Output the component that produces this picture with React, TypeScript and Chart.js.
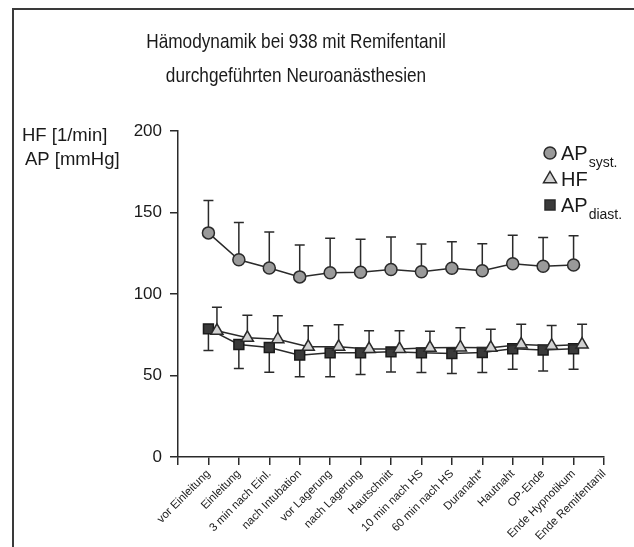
import { useEffect, useRef } from 'react';
import { Chart, registerables } from 'chart.js';

Chart.register(...registerables);

const FONT = "'Liberation Sans', Arial, Helvetica, sans-serif";

const categories = [
  'vor Einleitung',
  'Einleitung',
  '3 min nach Einl.',
  'nach Intubation',
  'vor Lagerung',
  'nach Lagerung',
  'Hautschnitt',
  '10 min nach HS',
  '60 min nach HS',
  'Duranaht*',
  'Hautnaht',
  'OP-Ende',
  'Ende Hypnotikum',
  'Ende Remifentanil',
];

const apSyst = [137.5, 121, 116, 110.5, 113, 113.3, 115, 113.7, 115.8, 114.3, 118.6, 117, 117.8];
const apSystUpper = [157.4, 143.9, 138.1, 130, 134.2, 133.6, 135, 130.6, 132, 130.8, 136.1, 134.6, 135.7];

const hf = [77.4, 73.1, 72.3, 67.6, 67.6, 66.2, 66.2, 67, 67.2, 67, 69, 68.2, 69];
const hfUpper = [91.8, 86.9, 86.7, 80.5, 81.1, 77.4, 77.4, 77.2, 79.3, 78.3, 81.4, 80.7, 81.4];

const apDiast = [78.6, 69, 67.2, 62.5, 63.9, 63.9, 64.5, 63.9, 63.5, 64.1, 66.4, 65.6, 66.4];
const apDiastLower = [65.4, 54.3, 52, 49.2, 49.2, 50.6, 52.2, 51.8, 51.2, 51.8, 53.9, 52.8, 53.9];

const yTicks = [0, 50, 100, 150, 200];
const titleLines = ['Hämodynamik bei 938 mit Remifentanil', 'durchgeführten Neuroanästhesien'];
const yTitleLines = ['HF [1/min]', 'AP [mmHg]'];
const HF_SHIFT = 0.28;

const INK = '#2a2a2a';

const errorBarPlugin = {
  id: 'errorBars',
  beforeDatasetsDraw(chart: any) {
    const ctx = chart.ctx;
    const ys = chart.scales.y;
    chart.data.datasets.forEach((ds: any, i: number) => {
      if (!ds.errorTo) return;
      const meta = chart.getDatasetMeta(i);
      ctx.save();
      ctx.strokeStyle = INK;
      ctx.lineWidth = 1.5;
      meta.data.forEach((pt: any, j: number) => {
        const yEnd = ys.getPixelForValue(ds.errorTo[j]);
        ctx.beginPath();
        ctx.moveTo(pt.x, pt.y);
        ctx.lineTo(pt.x, yEnd);
        ctx.moveTo(pt.x - 5, yEnd);
        ctx.lineTo(pt.x + 5, yEnd);
        ctx.stroke();
      });
      ctx.restore();
    });
  },
};

function drawMarker(ctx: CanvasRenderingContext2D, style: string, x: number, y: number, fill: string) {
  ctx.save();
  ctx.fillStyle = fill;
  ctx.strokeStyle = INK;
  ctx.lineWidth = 1.5;
  ctx.beginPath();
  if (style === 'circle') {
    ctx.arc(x, y, 6, 0, Math.PI * 2);
  } else if (style === 'triangle') {
    const r = 7.5;
    ctx.moveTo(x, y - r);
    ctx.lineTo(x + r * 0.866, y + r * 0.5);
    ctx.lineTo(x - r * 0.866, y + r * 0.5);
    ctx.closePath();
  } else {
    ctx.rect(x - 5, y - 5, 10, 10);
  }
  ctx.fill();
  ctx.stroke();
  ctx.restore();
}

const decorPlugin = {
  id: 'decor',
  afterDraw(chart: any) {
    const ctx: CanvasRenderingContext2D = chart.ctx;
    ctx.save();
    // frame
    ctx.strokeStyle = '#3a3a3a';
    ctx.lineWidth = 2;
    ctx.beginPath();
    ctx.moveTo(13, 547);
    ctx.lineTo(13, 9);
    ctx.lineTo(634, 9);
    ctx.stroke();

    ctx.fillStyle = '#1a1a1a';
    // title
    ctx.textAlign = 'center';
    ctx.textBaseline = 'alphabetic';
    ctx.font = `21px ${FONT}`;
    titleLines.forEach((t, i) => {
      ctx.save();
      ctx.translate(296, 48 + i * 34);
      ctx.scale(0.82, 1);
      ctx.fillText(t, 0, 0);
      ctx.restore();
    });

    // y title
    ctx.textAlign = 'left';
    ctx.font = `18.5px ${FONT}`;
    ctx.fillText(yTitleLines[0], 22, 141);
    ctx.fillText(yTitleLines[1], 25, 165);

    // legend
    const items = [
      { style: 'circle', fill: '#9a9a9a', main: 'AP', sub: 'syst.' },
      { style: 'triangle', fill: '#d2d2d2', main: 'HF', sub: '' },
      { style: 'rect', fill: '#3a3a3a', main: 'AP', sub: 'diast.' },
    ];
    items.forEach((it, i) => {
      const y = 153 + i * 26;
      drawMarker(ctx, it.style, 550, y, it.fill);
      ctx.fillStyle = '#1a1a1a';
      ctx.font = `20px ${FONT}`;
      ctx.textBaseline = 'middle';
      ctx.fillText(it.main, 561, y + 1);
      const w = ctx.measureText(it.main).width;
      if (it.sub) {
        ctx.font = `14px ${FONT}`;
        ctx.fillText(it.sub, 561 + w + 1, y + 10);
      }
    });
    ctx.restore();
  },
};

export default function App() {
  const ref = useRef<HTMLCanvasElement | null>(null);
  useEffect(() => {
    if (!ref.current) return;
    const axisCommon = {
      grid: { drawOnChartArea: false, drawTicks: true, tickLength: 8, color: INK, lineWidth: 1.5 },
      border: { color: INK, width: 1.5 },
    };
    const chart = new Chart(ref.current, {
      type: 'line',
      data: {
        datasets: [
          {
            label: 'AP syst.',
            data: apSyst.map((y, i) => ({ x: i + 1, y })),
            errorTo: apSystUpper,
            order: 2,
            borderColor: INK,
            borderWidth: 1.5,
            pointStyle: 'circle',
            pointRadius: 6,
            pointBackgroundColor: '#9a9a9a',
            pointBorderColor: INK,
            pointBorderWidth: 1.5,
            fill: false,
            tension: 0,
          } as any,
          {
            label: 'HF',
            data: hf.map((y, i) => ({ x: i + 1 + HF_SHIFT, y })),
            errorTo: hfUpper,
            order: 0,
            borderColor: INK,
            borderWidth: 1.5,
            pointStyle: 'triangle',
            pointRadius: 7,
            pointBackgroundColor: '#d2d2d2',
            pointBorderColor: INK,
            pointBorderWidth: 1.5,
            fill: false,
            tension: 0,
          } as any,
          {
            label: 'AP diast.',
            data: apDiast.map((y, i) => ({ x: i + 1, y })),
            errorTo: apDiastLower,
            order: 1,
            borderColor: INK,
            borderWidth: 1.5,
            pointStyle: 'rect',
            pointRadius: 7,
            pointBackgroundColor: '#3a3a3a',
            pointBorderColor: '#1a1a1a',
            pointBorderWidth: 1.5,
            fill: false,
            tension: 0,
          } as any,
        ],
      },
      options: {
        responsive: false,
        animation: false,
        layout: { padding: { top: 131, right: 30, left: 0, bottom: 0 } },
        plugins: { legend: { display: false }, tooltip: { enabled: false }, title: { display: false } },
        scales: {
          x: {
            type: 'linear',
            min: 0,
            max: categories.length,
            afterBuildTicks: (s: any) => {
              s.ticks = Array.from({ length: categories.length + 1 }, (_, i) => ({ value: i }));
            },
            afterFit: (s: any) => {
              s.height = 90;
            },
            ...axisCommon,
            ticks: {
              autoSkip: false,
              minRotation: 45,
              maxRotation: 45,
              padding: 2,
              color: '#1a1a1a',
              font: { family: FONT, size: 11.5 },
              callback: (v: any) => categories[v - 1] ?? '',
            },
          },
          y: {
            min: 0,
            max: 200,
            afterBuildTicks: (s: any) => {
              s.ticks = yTicks.map((v) => ({ value: v }));
            },
            afterFit: (s: any) => {
              s.width = 178;
            },
            ...axisCommon,
            ticks: {
              padding: 8,
              color: '#1a1a1a',
              font: { family: FONT, size: 17 },
            },
          },
        },
      } as any,
      plugins: [errorBarPlugin, decorPlugin],
    });
    return () => chart.destroy();
  }, []);
  return (
    <div style={{ position: 'fixed', left: 0, top: 0, width: 634, height: 547, background: '#fff' }}>
      <canvas ref={ref} width={634} height={547} style={{ display: 'block' }} />
    </div>
  );
}
